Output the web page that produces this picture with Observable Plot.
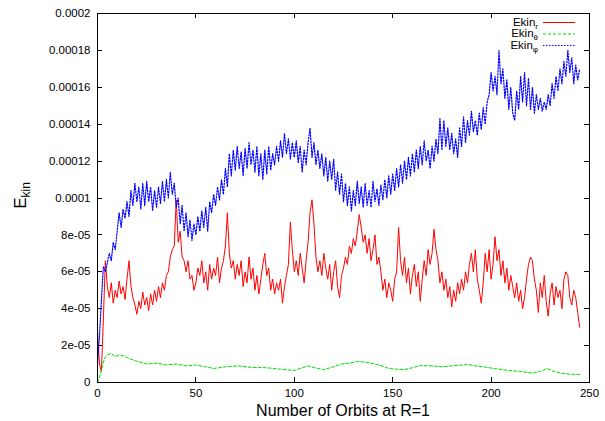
<!DOCTYPE html>
<html><head><meta charset="utf-8">
<script src="https://cdn.jsdelivr.net/npm/d3@7"></script>
<script src="https://cdn.jsdelivr.net/npm/@observablehq/plot@0.6"></script>
<style>
body{margin:0;background:#fff}
svg{font-family:"Liberation Sans",Arial,Helvetica,sans-serif}
</style>
</head><body><div id="chart"></div>
<script>
// Values in units of 1e-5; sampled once per orbit (index = orbit number)
const ekinR = [
2.8,1.0,0.6,3.5,6.6,5.2,4.6,5.4,4.3,5.0,
4.6,5.5,4.8,5.2,4.5,5.6,6.6,5.2,4.6,4.2,
3.7,4.4,4.0,4.9,4.2,4.6,3.9,4.8,4.2,5.0,
4.4,5.2,4.6,5.4,5.0,5.8,6.0,6.8,7.2,7.4,
9.9,7.6,8.2,6.8,6.6,6.0,6.6,5.6,5.8,5.0,
5.4,6.2,5.8,6.6,5.4,6.0,5.0,6.4,5.6,6.2,
5.8,6.8,5.4,6.2,6.6,7.4,9.2,7.0,6.2,6.6,
5.6,6.4,5.8,6.6,5.2,6.0,5.4,6.8,5.6,6.2,
5.0,5.8,4.8,5.6,6.4,7.0,5.8,6.2,5.0,5.6,
4.8,5.4,5.0,5.6,4.3,5.2,5.8,6.4,8.7,7.2,
6.0,6.6,5.8,7.0,6.2,5.4,6.6,7.6,9.2,9.9,
8.6,6.8,6.0,6.6,5.8,7.0,6.2,5.6,6.4,5.0,
6.0,6.6,5.2,4.6,5.8,6.2,6.8,6.4,7.4,7.0,
7.8,7.4,8.2,9.1,8.4,7.6,8.0,7.0,7.8,6.6,
7.2,8.0,6.4,6.8,6.0,5.0,5.6,4.6,5.4,5.0,
4.4,5.6,6.0,8.4,6.6,5.8,6.8,5.4,6.2,4.8,
5.8,6.4,5.2,6.0,4.4,5.6,6.6,5.8,7.2,6.4,
7.0,8.3,7.2,6.6,5.4,6.0,5.0,5.6,4.6,5.2,
4.1,5.0,4.4,5.4,4.8,5.6,5.0,6.0,5.4,6.4,
7.0,6.0,7.2,5.6,5.0,4.3,5.4,7.0,6.0,7.2,
5.6,6.4,7.9,6.6,7.2,5.8,6.6,5.4,6.2,5.0,
5.8,5.2,4.6,5.4,4.4,5.0,4.0,4.6,5.6,6.4,
6.8,6.6,5.6,5.0,3.8,5.4,4.6,5.8,4.4,3.6,
4.8,5.4,4.2,5.2,4.6,5.0,4.0,5.6,6.0,5.8,
4.6,4.2,5.0,4.6,3.8,3.0
];
const ekinPhi = [
1.0,2.5,4.5,6.3,6.0,6.5,7.0,6.6,7.6,7.2,
8.2,9.2,8.4,9.4,8.9,9.8,9.0,10.4,9.6,10.8,
9.8,10.6,9.4,10.8,9.6,10.9,9.8,10.6,9.3,10.4,
9.5,10.6,9.7,10.9,9.8,11.0,10.0,11.4,10.2,10.8,
9.5,10.0,8.6,9.6,8.2,9.2,7.9,8.8,7.7,8.6,
8.0,9.0,8.2,9.3,8.4,9.5,8.2,9.8,9.2,10.2,
9.6,10.6,9.9,11.0,10.2,11.6,10.6,12.4,11.2,12.6,
11.5,12.8,11.6,12.5,11.2,12.7,11.6,13.0,11.8,12.6,
11.4,12.8,11.2,12.4,11.0,12.6,11.3,12.8,11.5,12.4,
11.8,12.8,12.0,13.1,12.2,13.5,12.4,13.2,12.1,13.0,
12.2,13.1,11.9,12.8,11.4,12.6,11.8,13.0,13.8,12.2,
13.0,11.8,12.6,11.6,12.4,11.2,12.2,10.9,12.0,11.0,
12.1,10.4,11.4,10.2,11.3,9.8,10.8,9.6,10.6,9.3,
10.4,9.6,10.9,9.7,10.6,9.5,10.8,9.6,10.4,9.5,
10.9,9.8,10.5,9.6,10.7,9.9,11.0,10.0,11.2,10.2,
11.3,10.4,11.6,10.6,11.8,10.8,12.0,11.0,12.2,11.2,
12.4,11.4,12.6,11.6,12.8,11.8,13.1,12.0,12.6,11.6,
12.8,12.0,13.2,12.4,14.3,12.6,14.2,12.8,13.8,12.6,
13.5,12.4,13.2,12.2,13.8,12.8,14.4,13.0,14.2,13.4,
14.7,13.6,14.2,13.4,14.6,13.7,14.9,14.0,15.2,15.6,
16.8,15.8,16.6,15.6,18.0,16.2,17.0,15.4,16.4,14.8,
16.0,14.6,14.2,15.8,14.8,16.6,15.2,16.8,15.0,16.5,
14.8,16.0,14.6,15.6,14.8,15.4,14.7,15.2,14.8,15.6,
15.0,16.2,15.4,16.6,15.8,17.0,16.2,17.4,16.6,18.0,
16.8,17.6,16.2,17.2,16.4,17.0
];
const thetaOrbits = [0,1,2,3,4,5,7,9,11,13,16,20,25,30,35,40,45,50,55,59,65,72,78,86,93,100,104,107,111,115,120,124,128,132,136,139,143,148,152,156,160,164,170,175,180,188,192,196,202,209,215,221,225,228.5,232,236,240,245];
const ekinTheta = [0,0.3,0.7,1.1,1.4,1.5,1.57,1.4,1.5,1.45,1.3,1.15,1.0,1.05,0.95,1.0,0.9,0.95,0.85,0.76,0.85,0.9,0.82,0.8,0.72,0.65,0.8,0.9,0.78,0.7,0.85,1.0,1.05,1.14,1.1,1.05,0.95,0.76,0.72,0.7,0.8,0.92,0.9,0.85,0.9,0.98,0.9,0.85,0.75,0.65,0.6,0.5,0.6,0.76,0.6,0.5,0.45,0.43];

const xTicks = [0,50,100,150,200,250];
const yTicks = [0,2,4,6,8,10,12,14,16,18,20];
const yTickLabels = ["0","2e-05","4e-05","6e-05","8e-05","0.0001","0.00012","0.00014","0.00016","0.00018","0.0002"];
const legendSubs = ["r","θ","φ"];
const colors = ["#ff0000","#00dd00","#0000ff"];
const dashes = [null,"3,2","1.5,1.5"];

const chart = Plot.plot({
  width: 605, height: 421,
  marginLeft: 97, marginRight: 16, marginTop: 13, marginBottom: 39,
  style: {fontFamily: '"Liberation Sans", Arial, sans-serif', fontSize: "11.5px", color: "#000", background: "#fff"},
  x: {domain: [0, 250]},
  y: {domain: [0, 20]},
  marks: [
    Plot.lineY(ekinR, {stroke: colors[0], strokeWidth: 1}),
    Plot.line(ekinTheta, {x: (d, i) => thetaOrbits[i], y: d => d, stroke: colors[1], strokeWidth: 1, strokeDasharray: dashes[1]}),
    Plot.lineY(ekinPhi, {stroke: colors[2], strokeWidth: 1.2, strokeDasharray: dashes[2]}),
    Plot.frame({stroke: "#000"}),
    Plot.axisX(xTicks, {anchor: "bottom", tickSize: 0, tickPadding: 6, label: null}),
    Plot.axisY(yTicks, {anchor: "left", tickSize: 0, tickPadding: 7, label: null,
      tickFormat: d => yTickLabels[yTicks.indexOf(d)]})
  ]
});
document.getElementById("chart").appendChild(chart);

const sx = chart.scale("x"), sy = chart.scale("y");
const svg = d3.select(chart);
const L = sx.apply(0), R = sx.apply(250), B = sy.apply(0), T = sy.apply(20);
const tk = svg.append("g").attr("stroke", "#000").attr("stroke-width", 1);
yTicks.forEach(v => {
  const y = Math.round(sy.apply(v)) + 0.5;
  tk.append("line").attr("x1", L).attr("x2", L + 5).attr("y1", y).attr("y2", y);
  tk.append("line").attr("x1", R - 5).attr("x2", R).attr("y1", y).attr("y2", y);
});
xTicks.forEach(v => {
  const x = Math.round(sx.apply(v)) + 0.5;
  tk.append("line").attr("x1", x).attr("x2", x).attr("y1", B - 5).attr("y2", B);
  tk.append("line").attr("x1", x).attr("x2", x).attr("y1", T).attr("y2", T + 5);
});

// axis titles
svg.append("text").attr("x", (L + R) / 2).attr("y", 416).attr("text-anchor", "middle")
  .attr("font-size", 16).attr("fill", "#000").text("Number of Orbits at R=1");
const yl = svg.append("text").attr("transform", `translate(26,${(T + B) / 2 - 2})rotate(-90)`)
  .attr("text-anchor", "middle").attr("fill", "#000");
yl.append("tspan").attr("font-size", 17).text("E");
yl.append("tspan").attr("font-size", 12).attr("dy", 4).text("kin");

// legend
const lg = svg.append("g");
legendSubs.forEach((s, i) => {
  const y = T + 9.5 + i * 11.5;
  const t = lg.append("text").attr("x", R - 51).attr("y", y + 3).attr("text-anchor", "end")
    .attr("font-size", 11.5).attr("fill", "#000");
  t.append("tspan").text("Ekin");
  t.append("tspan").attr("font-size", 8).attr("dy", 3).text(s);
  lg.append("line").attr("x1", R - 46).attr("x2", R - 14).attr("y1", y).attr("y2", y)
    .attr("stroke", colors[i]).attr("stroke-width", 1).attr("stroke-dasharray", dashes[i]);
});
</script>
</body></html>
